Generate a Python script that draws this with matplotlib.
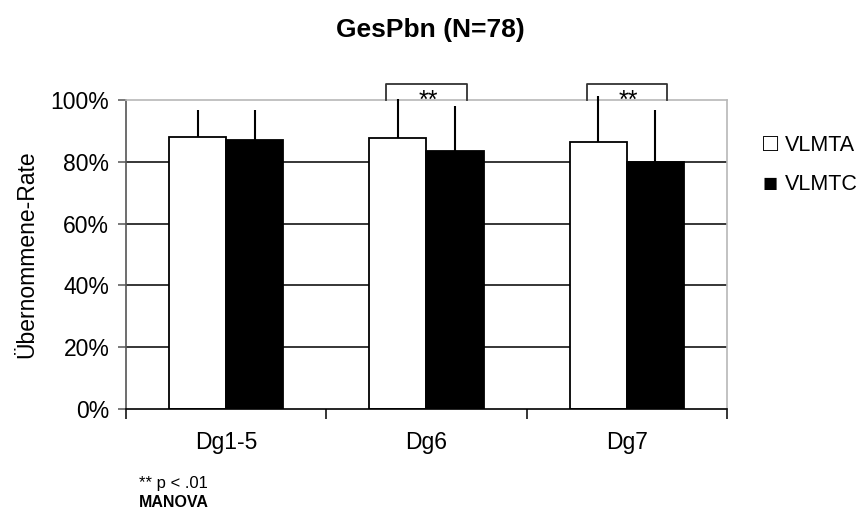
import numpy as np
import matplotlib.pyplot as plt

plt.rcParams['font.family'] = ['Liberation Sans', 'DejaVu Sans']

categories = ["Dg1-5", "Dg6", "Dg7"]
vlmta = [88.1, 87.6, 86.5]
vlmtc = [87.0, 83.6, 80.0]
vlmta_sd = [8.7, 12.7, 14.8]
vlmtc_sd = [9.8, 14.5, 16.8]
significant = [False, True, True]

x = np.arange(len(categories))
w = 0.285

fig = plt.figure(figsize=(8.6, 5.18), dpi=100)
ax = fig.add_axes([0.1465, 0.2104, 0.6988, 0.5966])

ax.set_xlim(-0.5, 2.5)
ax.set_ylim(0, 100)

# grid lines behind the bars
for g in [20, 40, 60, 80]:
    ax.axhline(g, color="black", lw=1.1, zorder=0)

ax.bar(x - w / 2, vlmta, w, color="white", edgecolor="black", lw=1.3, zorder=2, label="VLMTA")
ax.bar(x + w / 2, vlmtc, w, color="black", edgecolor="black", lw=1.3, zorder=2, label="VLMTC")

# upper half of the error bars only
ax.vlines(x - w / 2, vlmta, np.array(vlmta) + np.array(vlmta_sd), color="black", lw=1.5, zorder=3, clip_on=False)
ax.vlines(x + w / 2, vlmtc, np.array(vlmtc) + np.array(vlmtc_sd), color="black", lw=1.5, zorder=3, clip_on=False)

# significance brackets
for i, sig in enumerate(significant):
    if not sig:
        continue
    xl, xr = x[i] - 0.2, x[i] + 0.2
    ax.plot([xl, xl, xr, xr], [100, 105.3, 105.3, 100], color="#333333", lw=1.3,
            clip_on=False, zorder=4)
    ax.text(x[i] + 0.01, 97.5, "**", ha="center", va="baseline", fontsize=18, zorder=4)

ax.spines["top"].set_color("#b8b8b8")
ax.spines["right"].set_color("#b8b8b8")
ax.spines["left"].set_color("#555555")
ax.spines["bottom"].set_color("black")
for s in ax.spines.values():
    s.set_linewidth(1.2)

ax.set_yticks([0, 20, 40, 60, 80, 100])
ax.set_yticklabels(["0%", "20%", "40%", "60%", "80%", "100%"])
ax.tick_params(axis="y", direction="out", length=6, width=1.1, color="#555555", labelsize=16.5, pad=6)

ax.set_xticks(x)
ax.set_xticklabels(categories)
ax.tick_params(axis="x", length=0, labelsize=16.5, pad=16)
ax.set_xticks([-0.5, 0.5, 1.5, 2.5], minor=True)
ax.tick_params(axis="x", which="minor", direction="out", length=7, width=1.1, color="black")

ax.set_ylabel("Übernommene-Rate", fontsize=16.5, labelpad=9)

fig.text(0.5, 0.942, "GesPbn (N=78)", ha="center", va="center", fontsize=19, fontweight="bold")

# legend entries as squares with labels
fig.text(0.887, 0.722, "\u25a1", ha="left", va="center", fontsize=18)
fig.text(0.913, 0.72, "VLMTA", ha="left", va="center", fontsize=15.5)
fig.text(0.887, 0.645, "\u25a0", ha="left", va="center", fontsize=18)
fig.text(0.913, 0.643, "VLMTC", ha="left", va="center", fontsize=15.5)

fig.text(0.162, 0.066, "** p < .01", ha="left", va="center", fontsize=12)
fig.text(0.162, 0.029, "MANOVA", ha="left", va="center", fontsize=11.5, fontweight="bold")

fig.savefig("out.png", dpi=100)
